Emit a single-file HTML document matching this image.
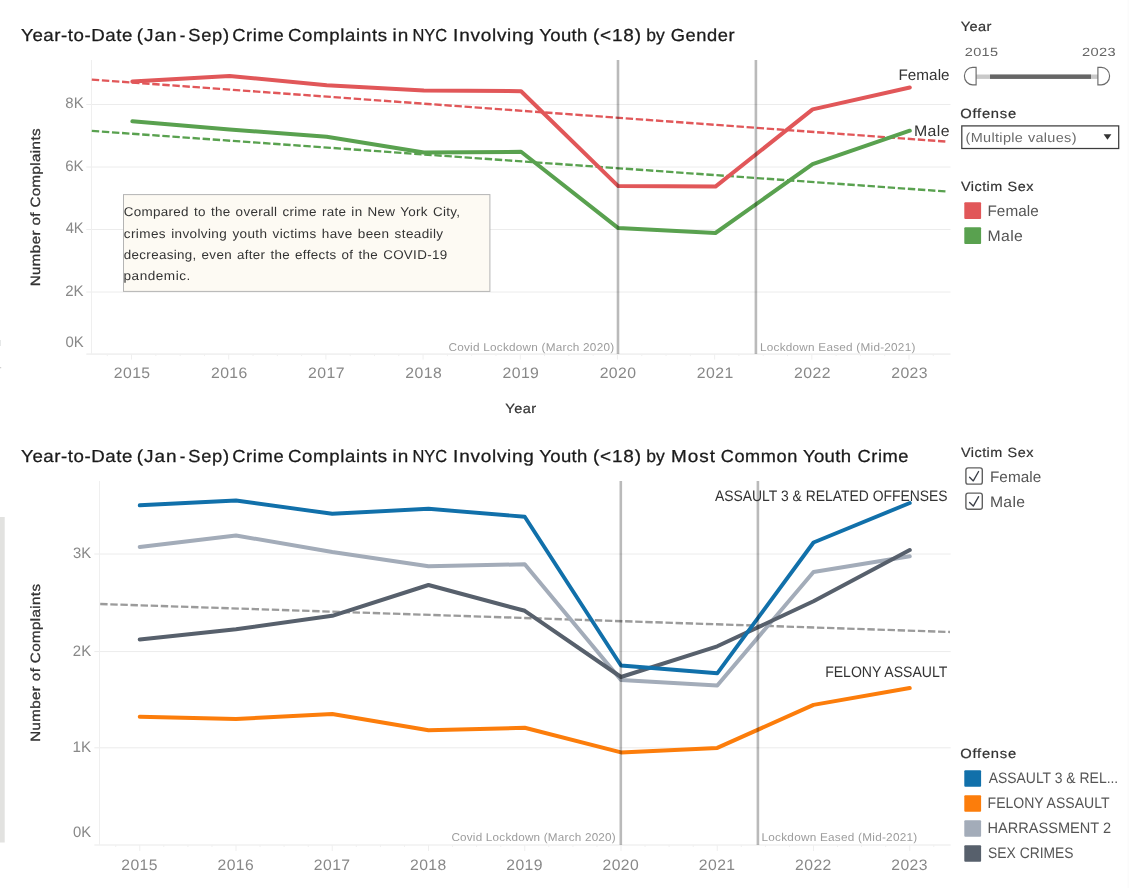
<!DOCTYPE html>
<html lang="en">
<head>
<meta charset="utf-8">
<title>Crime Complaints in NYC Involving Youth</title>
<style>
html, body { margin: 0; padding: 0; background: #ffffff; }
body { width: 1129px; height: 888px; overflow: hidden; }
svg { display: block; font-family: "Liberation Sans", sans-serif; }
svg text { white-space: pre; text-rendering: geometricPrecision; }
</style>
</head>
<body>
<svg width="1129" height="888" viewBox="0 0 1129 888">
<rect x="0" y="0" width="1129" height="888" fill="#ffffff"/>
<rect x="0" y="517" width="4.7" height="325.5" fill="#e2e2e0"/>
<rect x="1127.5" y="0" width="1.5" height="888" fill="#fbfbfb"/>
<rect x="0" y="340" width="0.9" height="6" fill="#e4e6e6"/>
<rect x="0" y="367" width="1.2" height="1.3" fill="#cfcfcf"/>
<line x1="86.30" y1="104.50" x2="950.50" y2="104.50" stroke="#ececec" stroke-width="1"/>
<line x1="86.30" y1="167.00" x2="950.50" y2="167.00" stroke="#ececec" stroke-width="1"/>
<line x1="86.30" y1="229.50" x2="950.50" y2="229.50" stroke="#ececec" stroke-width="1"/>
<line x1="86.30" y1="292.00" x2="950.50" y2="292.00" stroke="#ececec" stroke-width="1"/>
<line x1="91.50" y1="60.00" x2="91.50" y2="354.10" stroke="#efefef" stroke-width="1"/>
<line x1="86.30" y1="354.10" x2="950.50" y2="354.10" stroke="#f1f1f1" stroke-width="1.7"/>
<line x1="131.55" y1="354.10" x2="131.55" y2="359.60" stroke="#efefef" stroke-width="1"/>
<line x1="228.73" y1="354.10" x2="228.73" y2="359.60" stroke="#efefef" stroke-width="1"/>
<line x1="325.91" y1="354.10" x2="325.91" y2="359.60" stroke="#efefef" stroke-width="1"/>
<line x1="423.09" y1="354.10" x2="423.09" y2="359.60" stroke="#efefef" stroke-width="1"/>
<line x1="520.27" y1="354.10" x2="520.27" y2="359.60" stroke="#efefef" stroke-width="1"/>
<line x1="617.45" y1="354.10" x2="617.45" y2="359.60" stroke="#efefef" stroke-width="1"/>
<line x1="714.63" y1="354.10" x2="714.63" y2="359.60" stroke="#efefef" stroke-width="1"/>
<line x1="811.81" y1="354.10" x2="811.81" y2="359.60" stroke="#efefef" stroke-width="1"/>
<line x1="908.99" y1="354.10" x2="908.99" y2="359.60" stroke="#efefef" stroke-width="1"/>
<line x1="107.26" y1="354.10" x2="107.26" y2="356.10" stroke="#f0f0f0" stroke-width="1"/>
<line x1="155.85" y1="354.10" x2="155.85" y2="356.10" stroke="#f0f0f0" stroke-width="1"/>
<line x1="180.14" y1="354.10" x2="180.14" y2="356.10" stroke="#f0f0f0" stroke-width="1"/>
<line x1="204.44" y1="354.10" x2="204.44" y2="356.10" stroke="#f0f0f0" stroke-width="1"/>
<line x1="253.03" y1="354.10" x2="253.03" y2="356.10" stroke="#f0f0f0" stroke-width="1"/>
<line x1="277.32" y1="354.10" x2="277.32" y2="356.10" stroke="#f0f0f0" stroke-width="1"/>
<line x1="301.62" y1="354.10" x2="301.62" y2="356.10" stroke="#f0f0f0" stroke-width="1"/>
<line x1="350.21" y1="354.10" x2="350.21" y2="356.10" stroke="#f0f0f0" stroke-width="1"/>
<line x1="374.50" y1="354.10" x2="374.50" y2="356.10" stroke="#f0f0f0" stroke-width="1"/>
<line x1="398.80" y1="354.10" x2="398.80" y2="356.10" stroke="#f0f0f0" stroke-width="1"/>
<line x1="447.39" y1="354.10" x2="447.39" y2="356.10" stroke="#f0f0f0" stroke-width="1"/>
<line x1="471.68" y1="354.10" x2="471.68" y2="356.10" stroke="#f0f0f0" stroke-width="1"/>
<line x1="495.98" y1="354.10" x2="495.98" y2="356.10" stroke="#f0f0f0" stroke-width="1"/>
<line x1="544.57" y1="354.10" x2="544.57" y2="356.10" stroke="#f0f0f0" stroke-width="1"/>
<line x1="568.86" y1="354.10" x2="568.86" y2="356.10" stroke="#f0f0f0" stroke-width="1"/>
<line x1="593.15" y1="354.10" x2="593.15" y2="356.10" stroke="#f0f0f0" stroke-width="1"/>
<line x1="641.75" y1="354.10" x2="641.75" y2="356.10" stroke="#f0f0f0" stroke-width="1"/>
<line x1="666.04" y1="354.10" x2="666.04" y2="356.10" stroke="#f0f0f0" stroke-width="1"/>
<line x1="690.34" y1="354.10" x2="690.34" y2="356.10" stroke="#f0f0f0" stroke-width="1"/>
<line x1="738.92" y1="354.10" x2="738.92" y2="356.10" stroke="#f0f0f0" stroke-width="1"/>
<line x1="763.22" y1="354.10" x2="763.22" y2="356.10" stroke="#f0f0f0" stroke-width="1"/>
<line x1="787.52" y1="354.10" x2="787.52" y2="356.10" stroke="#f0f0f0" stroke-width="1"/>
<line x1="836.11" y1="354.10" x2="836.11" y2="356.10" stroke="#f0f0f0" stroke-width="1"/>
<line x1="860.40" y1="354.10" x2="860.40" y2="356.10" stroke="#f0f0f0" stroke-width="1"/>
<line x1="884.70" y1="354.10" x2="884.70" y2="356.10" stroke="#f0f0f0" stroke-width="1"/>
<line x1="933.29" y1="354.10" x2="933.29" y2="356.10" stroke="#f0f0f0" stroke-width="1"/>
<line x1="91.80" y1="79.60" x2="947.80" y2="141.70" stroke="#e15759" stroke-width="2.35" stroke-dasharray="7.4 2.7"/>
<line x1="91.80" y1="130.90" x2="947.80" y2="191.60" stroke="#59a14f" stroke-width="2.35" stroke-dasharray="7.4 2.7"/>
<polyline points="132.35,121.30 229.53,129.50 326.71,136.80 423.89,152.50 521.07,151.80 618.25,228.10 715.43,233.00 812.61,164.20 909.79,130.70" fill="none" stroke="#59a14f" stroke-width="4.0" stroke-linejoin="round" stroke-linecap="round"/>
<polyline points="132.35,81.60 229.53,75.90 326.71,85.20 423.89,90.40 521.07,91.20 618.25,186.10 715.43,186.60 812.61,109.40 909.79,87.50" fill="none" stroke="#e15759" stroke-width="4.0" stroke-linejoin="round" stroke-linecap="round"/>
<line x1="618.00" y1="60.00" x2="618.00" y2="354.10" stroke="#000000" stroke-opacity="0.27" stroke-width="2.6"/>
<line x1="755.90" y1="60.00" x2="755.90" y2="354.10" stroke="#000000" stroke-opacity="0.27" stroke-width="2.6"/>
<rect x="123.5" y="194.6" width="366.4" height="96.8" fill="#fdfaf3" stroke="#b4b4b4" stroke-width="1"/>
<text x="123.72" y="216.30" font-size="12.7" fill="#333333" letter-spacing="0.287" textLength="336.58" lengthAdjust="spacingAndGlyphs" word-spacing="1.0">Compared to the overall crime rate in New York City,</text>
<text x="123.83" y="237.60" font-size="12.7" fill="#333333" letter-spacing="0.358" textLength="319.68" lengthAdjust="spacingAndGlyphs" word-spacing="1.0">crimes involving youth victims have been steadily</text>
<text x="123.84" y="259.00" font-size="12.7" fill="#333333" letter-spacing="0.301" textLength="323.61" lengthAdjust="spacingAndGlyphs" word-spacing="1.0">decreasing, even after the effects of the COVID-19</text>
<text x="123.52" y="280.20" font-size="12.7" fill="#333333" letter-spacing="0.466" textLength="67.22" lengthAdjust="spacingAndGlyphs" word-spacing="1.0">pandemic.</text>
<text x="65.35" y="108.30" font-size="15.2" fill="#888888" textLength="18.32" lengthAdjust="spacingAndGlyphs">8K</text>
<text x="65.23" y="170.80" font-size="15.2" fill="#888888" textLength="18.43" lengthAdjust="spacingAndGlyphs">6K</text>
<text x="65.66" y="233.30" font-size="15.2" fill="#888888" textLength="18.00" lengthAdjust="spacingAndGlyphs">4K</text>
<text x="65.24" y="295.80" font-size="15.2" fill="#888888" textLength="18.43" lengthAdjust="spacingAndGlyphs">2K</text>
<text x="65.42" y="347.00" font-size="15.2" fill="#888888" textLength="18.25" lengthAdjust="spacingAndGlyphs">0K</text>
<text x="113.76" y="377.90" font-size="15.2" fill="#888888" letter-spacing="0.399" textLength="36.77" lengthAdjust="spacingAndGlyphs">2015</text>
<text x="210.94" y="377.90" font-size="15.2" fill="#888888" letter-spacing="0.404" textLength="36.81" lengthAdjust="spacingAndGlyphs">2016</text>
<text x="308.11" y="377.90" font-size="15.2" fill="#888888" letter-spacing="0.419" textLength="36.93" lengthAdjust="spacingAndGlyphs">2017</text>
<text x="405.30" y="377.90" font-size="15.2" fill="#888888" letter-spacing="0.403" textLength="36.80" lengthAdjust="spacingAndGlyphs">2018</text>
<text x="502.48" y="377.90" font-size="15.2" fill="#888888" letter-spacing="0.412" textLength="36.87" lengthAdjust="spacingAndGlyphs">2019</text>
<text x="599.66" y="377.90" font-size="15.2" fill="#888888" letter-spacing="0.393" textLength="36.72" lengthAdjust="spacingAndGlyphs">2020</text>
<text x="696.83" y="377.90" font-size="15.2" fill="#888888" letter-spacing="0.415" textLength="36.90" lengthAdjust="spacingAndGlyphs">2021</text>
<text x="794.01" y="377.90" font-size="15.2" fill="#888888" letter-spacing="0.419" textLength="36.93" lengthAdjust="spacingAndGlyphs">2022</text>
<text x="891.20" y="377.90" font-size="15.2" fill="#888888" letter-spacing="0.404" textLength="36.81" lengthAdjust="spacingAndGlyphs">2023</text>
<text x="505.39" y="412.90" font-size="13.4" fill="#333333" stroke="#333333" stroke-width="0.2" letter-spacing="0.370" textLength="31.02" lengthAdjust="spacingAndGlyphs">Year</text>
<g transform="translate(40.2 207) rotate(-90)">
<text x="-79.24" y="0.00" font-size="13.4" fill="#333333" stroke="#333333" stroke-width="0.3" letter-spacing="0.340" textLength="158.17" lengthAdjust="spacingAndGlyphs">Number of Complaints</text>
</g>
<text x="448.50" y="350.50" font-size="11.3" fill="#9c9c9c" letter-spacing="0.228" textLength="165.86" lengthAdjust="spacingAndGlyphs">Covid Lockdown (March 2020)</text>
<text x="760.04" y="350.50" font-size="11.3" fill="#9c9c9c" letter-spacing="0.228" textLength="155.53" lengthAdjust="spacingAndGlyphs">Lockdown Eased (Mid-2021)</text>
<text x="898.45" y="79.70" font-size="15.2" fill="#333333" letter-spacing="0.044" textLength="51.17" lengthAdjust="spacingAndGlyphs">Female</text>
<text x="913.90" y="136.20" font-size="15.2" fill="#333333" letter-spacing="0.428" textLength="36.15" lengthAdjust="spacingAndGlyphs">Male</text>
<text y="41.40" font-size="17.4" fill="#1a1a1a" stroke="#1a1a1a" stroke-width="0.27"><tspan x="21.10" letter-spacing="0.496" textLength="111.75" lengthAdjust="spacingAndGlyphs">Year-to-Date</tspan> <tspan x="136.71" letter-spacing="0.871" textLength="40.69" lengthAdjust="spacingAndGlyphs">(Jan</tspan> <tspan x="179.65" textLength="5.59" lengthAdjust="spacingAndGlyphs">-</tspan> <tspan x="188.37" letter-spacing="0.603" textLength="41.31" lengthAdjust="spacingAndGlyphs">Sep)</tspan> <tspan x="232.17" letter-spacing="0.587" textLength="52.07" lengthAdjust="spacingAndGlyphs">Crime</tspan> <tspan x="287.95" letter-spacing="0.622" textLength="99.78" lengthAdjust="spacingAndGlyphs">Complaints</tspan> <tspan x="392.64" letter-spacing="0.898" textLength="16.67" lengthAdjust="spacingAndGlyphs">in</tspan> <tspan x="412.45" textLength="34.67" lengthAdjust="spacingAndGlyphs">NYC</tspan> <tspan x="453.14" letter-spacing="0.681" textLength="81.53" lengthAdjust="spacingAndGlyphs">Involving</tspan> <tspan x="539.31" letter-spacing="0.309" textLength="48.37" lengthAdjust="spacingAndGlyphs">Youth</tspan> <tspan x="592.93" letter-spacing="0.777" textLength="48.89" lengthAdjust="spacingAndGlyphs">(&lt;18)</tspan> <tspan x="646.17" letter-spacing="0.138" textLength="18.80" lengthAdjust="spacingAndGlyphs">by</tspan> <tspan x="670.78" letter-spacing="0.554" textLength="64.51" lengthAdjust="spacingAndGlyphs">Gender</tspan></text>
<line x1="94.30" y1="554.00" x2="950.70" y2="554.00" stroke="#ececec" stroke-width="1"/>
<line x1="94.30" y1="651.60" x2="950.70" y2="651.60" stroke="#ececec" stroke-width="1"/>
<line x1="94.30" y1="747.80" x2="950.70" y2="747.80" stroke="#ececec" stroke-width="1"/>
<line x1="99.50" y1="481.00" x2="99.50" y2="845.00" stroke="#efefef" stroke-width="1"/>
<line x1="94.30" y1="845.00" x2="950.70" y2="845.00" stroke="#f1f1f1" stroke-width="1.7"/>
<line x1="139.75" y1="845.00" x2="139.75" y2="851.00" stroke="#efefef" stroke-width="1"/>
<line x1="236.00" y1="845.00" x2="236.00" y2="851.00" stroke="#efefef" stroke-width="1"/>
<line x1="332.25" y1="845.00" x2="332.25" y2="851.00" stroke="#efefef" stroke-width="1"/>
<line x1="428.50" y1="845.00" x2="428.50" y2="851.00" stroke="#efefef" stroke-width="1"/>
<line x1="524.75" y1="845.00" x2="524.75" y2="851.00" stroke="#efefef" stroke-width="1"/>
<line x1="621.00" y1="845.00" x2="621.00" y2="851.00" stroke="#efefef" stroke-width="1"/>
<line x1="717.25" y1="845.00" x2="717.25" y2="851.00" stroke="#efefef" stroke-width="1"/>
<line x1="813.50" y1="845.00" x2="813.50" y2="851.00" stroke="#efefef" stroke-width="1"/>
<line x1="909.75" y1="845.00" x2="909.75" y2="851.00" stroke="#efefef" stroke-width="1"/>
<line x1="115.69" y1="845.00" x2="115.69" y2="847.00" stroke="#f0f0f0" stroke-width="1"/>
<line x1="163.81" y1="845.00" x2="163.81" y2="847.00" stroke="#f0f0f0" stroke-width="1"/>
<line x1="187.88" y1="845.00" x2="187.88" y2="847.00" stroke="#f0f0f0" stroke-width="1"/>
<line x1="211.94" y1="845.00" x2="211.94" y2="847.00" stroke="#f0f0f0" stroke-width="1"/>
<line x1="260.06" y1="845.00" x2="260.06" y2="847.00" stroke="#f0f0f0" stroke-width="1"/>
<line x1="284.12" y1="845.00" x2="284.12" y2="847.00" stroke="#f0f0f0" stroke-width="1"/>
<line x1="308.19" y1="845.00" x2="308.19" y2="847.00" stroke="#f0f0f0" stroke-width="1"/>
<line x1="356.31" y1="845.00" x2="356.31" y2="847.00" stroke="#f0f0f0" stroke-width="1"/>
<line x1="380.38" y1="845.00" x2="380.38" y2="847.00" stroke="#f0f0f0" stroke-width="1"/>
<line x1="404.44" y1="845.00" x2="404.44" y2="847.00" stroke="#f0f0f0" stroke-width="1"/>
<line x1="452.56" y1="845.00" x2="452.56" y2="847.00" stroke="#f0f0f0" stroke-width="1"/>
<line x1="476.62" y1="845.00" x2="476.62" y2="847.00" stroke="#f0f0f0" stroke-width="1"/>
<line x1="500.69" y1="845.00" x2="500.69" y2="847.00" stroke="#f0f0f0" stroke-width="1"/>
<line x1="548.81" y1="845.00" x2="548.81" y2="847.00" stroke="#f0f0f0" stroke-width="1"/>
<line x1="572.88" y1="845.00" x2="572.88" y2="847.00" stroke="#f0f0f0" stroke-width="1"/>
<line x1="596.94" y1="845.00" x2="596.94" y2="847.00" stroke="#f0f0f0" stroke-width="1"/>
<line x1="645.06" y1="845.00" x2="645.06" y2="847.00" stroke="#f0f0f0" stroke-width="1"/>
<line x1="669.12" y1="845.00" x2="669.12" y2="847.00" stroke="#f0f0f0" stroke-width="1"/>
<line x1="693.19" y1="845.00" x2="693.19" y2="847.00" stroke="#f0f0f0" stroke-width="1"/>
<line x1="741.31" y1="845.00" x2="741.31" y2="847.00" stroke="#f0f0f0" stroke-width="1"/>
<line x1="765.38" y1="845.00" x2="765.38" y2="847.00" stroke="#f0f0f0" stroke-width="1"/>
<line x1="789.44" y1="845.00" x2="789.44" y2="847.00" stroke="#f0f0f0" stroke-width="1"/>
<line x1="837.56" y1="845.00" x2="837.56" y2="847.00" stroke="#f0f0f0" stroke-width="1"/>
<line x1="861.62" y1="845.00" x2="861.62" y2="847.00" stroke="#f0f0f0" stroke-width="1"/>
<line x1="885.69" y1="845.00" x2="885.69" y2="847.00" stroke="#f0f0f0" stroke-width="1"/>
<line x1="933.81" y1="845.00" x2="933.81" y2="847.00" stroke="#f0f0f0" stroke-width="1"/>
<line x1="100.20" y1="604.00" x2="950.00" y2="632.00" stroke="#9b9b9b" stroke-width="2.35" stroke-dasharray="7.4 2.7"/>
<polyline points="139.75,716.80 236.00,719.00 332.25,714.00 428.50,730.30 524.75,727.80 621.00,752.40 717.25,747.90 813.50,704.90 909.75,688.00" fill="none" stroke="#fc7d0b" stroke-width="4.0" stroke-linejoin="round" stroke-linecap="round"/>
<polyline points="139.75,547.00 236.00,535.50 332.25,552.00 428.50,566.30 524.75,564.30 621.00,680.00 717.25,685.50 813.50,572.00 909.75,556.30" fill="none" stroke="#a3acb9" stroke-width="4.0" stroke-linejoin="round" stroke-linecap="round"/>
<polyline points="139.75,639.50 236.00,629.30 332.25,615.80 428.50,585.00 524.75,610.80 621.00,677.00 717.25,646.30 813.50,601.30 909.75,550.00" fill="none" stroke="#57606c" stroke-width="4.0" stroke-linejoin="round" stroke-linecap="round"/>
<polyline points="139.75,505.30 236.00,500.50 332.25,513.80 428.50,508.80 524.75,516.80 621.00,665.50 717.25,673.30 813.50,542.50 909.75,503.00" fill="none" stroke="#1170aa" stroke-width="3.9" stroke-linejoin="round" stroke-linecap="round"/>
<line x1="620.80" y1="481.00" x2="620.80" y2="845.00" stroke="#000000" stroke-opacity="0.27" stroke-width="2.6"/>
<line x1="757.90" y1="481.00" x2="757.90" y2="845.00" stroke="#000000" stroke-opacity="0.27" stroke-width="2.6"/>
<text x="73.04" y="558.10" font-size="15.2" fill="#888888" textLength="18.13" lengthAdjust="spacingAndGlyphs">3K</text>
<text x="72.85" y="655.70" font-size="15.2" fill="#888888" textLength="18.32" lengthAdjust="spacingAndGlyphs">2K</text>
<text x="72.44" y="751.90" font-size="15.2" fill="#888888" letter-spacing="0.068" textLength="18.80" lengthAdjust="spacingAndGlyphs">1K</text>
<text x="73.02" y="837.30" font-size="15.2" fill="#888888" textLength="18.15" lengthAdjust="spacingAndGlyphs">0K</text>
<text x="121.36" y="870.10" font-size="15.2" fill="#888888" letter-spacing="0.353" textLength="36.41" lengthAdjust="spacingAndGlyphs">2015</text>
<text x="217.61" y="870.10" font-size="15.2" fill="#888888" letter-spacing="0.357" textLength="36.45" lengthAdjust="spacingAndGlyphs">2016</text>
<text x="313.86" y="870.10" font-size="15.2" fill="#888888" letter-spacing="0.372" textLength="36.57" lengthAdjust="spacingAndGlyphs">2017</text>
<text x="410.11" y="870.10" font-size="15.2" fill="#888888" letter-spacing="0.356" textLength="36.44" lengthAdjust="spacingAndGlyphs">2018</text>
<text x="506.36" y="870.10" font-size="15.2" fill="#888888" letter-spacing="0.366" textLength="36.51" lengthAdjust="spacingAndGlyphs">2019</text>
<text x="602.61" y="870.10" font-size="15.2" fill="#888888" letter-spacing="0.346" textLength="36.36" lengthAdjust="spacingAndGlyphs">2020</text>
<text x="698.86" y="870.10" font-size="15.2" fill="#888888" letter-spacing="0.369" textLength="36.54" lengthAdjust="spacingAndGlyphs">2021</text>
<text x="795.11" y="870.10" font-size="15.2" fill="#888888" letter-spacing="0.372" textLength="36.57" lengthAdjust="spacingAndGlyphs">2022</text>
<text x="891.36" y="870.10" font-size="15.2" fill="#888888" letter-spacing="0.357" textLength="36.45" lengthAdjust="spacingAndGlyphs">2023</text>
<g transform="translate(40.3 662.6) rotate(-90)">
<text x="-79.24" y="0.00" font-size="13.4" fill="#333333" stroke="#333333" stroke-width="0.3" letter-spacing="0.340" textLength="158.17" lengthAdjust="spacingAndGlyphs">Number of Complaints</text>
</g>
<text x="451.41" y="841.00" font-size="11.3" fill="#9c9c9c" letter-spacing="0.205" textLength="164.53" lengthAdjust="spacingAndGlyphs">Covid Lockdown (March 2020)</text>
<text x="761.53" y="841.00" font-size="11.3" fill="#9c9c9c" letter-spacing="0.236" textLength="155.94" lengthAdjust="spacingAndGlyphs">Lockdown Eased (Mid-2021)</text>
<text x="714.97" y="501.20" font-size="15.2" fill="#333333" textLength="232.66" lengthAdjust="spacingAndGlyphs">ASSAULT 3 &amp; RELATED OFFENSES</text>
<text x="825.17" y="677.00" font-size="15.2" fill="#333333" textLength="122.15" lengthAdjust="spacingAndGlyphs">FELONY ASSAULT</text>
<text y="461.90" font-size="17.4" fill="#1a1a1a" stroke="#1a1a1a" stroke-width="0.27"><tspan x="21.10" letter-spacing="0.496" textLength="111.75" lengthAdjust="spacingAndGlyphs">Year-to-Date</tspan> <tspan x="136.71" letter-spacing="0.871" textLength="40.69" lengthAdjust="spacingAndGlyphs">(Jan</tspan> <tspan x="179.65" textLength="5.59" lengthAdjust="spacingAndGlyphs">-</tspan> <tspan x="188.37" letter-spacing="0.603" textLength="41.31" lengthAdjust="spacingAndGlyphs">Sep)</tspan> <tspan x="232.17" letter-spacing="0.587" textLength="52.07" lengthAdjust="spacingAndGlyphs">Crime</tspan> <tspan x="287.95" letter-spacing="0.622" textLength="99.78" lengthAdjust="spacingAndGlyphs">Complaints</tspan> <tspan x="392.64" letter-spacing="0.898" textLength="16.67" lengthAdjust="spacingAndGlyphs">in</tspan> <tspan x="412.45" textLength="34.67" lengthAdjust="spacingAndGlyphs">NYC</tspan> <tspan x="453.14" letter-spacing="0.681" textLength="81.53" lengthAdjust="spacingAndGlyphs">Involving</tspan> <tspan x="539.31" letter-spacing="0.309" textLength="48.37" lengthAdjust="spacingAndGlyphs">Youth</tspan> <tspan x="592.93" letter-spacing="0.777" textLength="48.89" lengthAdjust="spacingAndGlyphs">(&lt;18)</tspan> <tspan x="646.17" letter-spacing="0.138" textLength="18.80" lengthAdjust="spacingAndGlyphs">by</tspan> <tspan x="670.95" letter-spacing="0.973" textLength="45.25" lengthAdjust="spacingAndGlyphs">Most</tspan> <tspan x="720.78" letter-spacing="0.559" textLength="77.08" lengthAdjust="spacingAndGlyphs">Common</tspan> <tspan x="802.91" letter-spacing="0.332" textLength="48.60" lengthAdjust="spacingAndGlyphs">Youth</tspan> <tspan x="857.57" letter-spacing="0.531" textLength="51.50" lengthAdjust="spacingAndGlyphs">Crime</tspan></text>
<text x="960.69" y="31.00" font-size="13.4" fill="#333333" stroke="#333333" stroke-width="0.2" letter-spacing="0.385" textLength="31.14" lengthAdjust="spacingAndGlyphs">Year</text>
<text x="964.77" y="55.90" font-size="11.9" fill="#666666" letter-spacing="0.268" textLength="33.56" lengthAdjust="spacingAndGlyphs">2015</text>
<text x="1081.96" y="55.90" font-size="11.9" fill="#666666" letter-spacing="0.282" textLength="34.03" lengthAdjust="spacingAndGlyphs">2023</text>
<rect x="975.8" y="74.5" width="122.4" height="4.4" fill="#c9c9c9"/>
<rect x="990" y="74.5" width="101" height="4.4" fill="#666666"/>
<path d="M976.1 67.4 h-3.4 a8.3 8.7 0 0 0 0 17.4 h3.4 z" fill="#ffffff" stroke="#6a6a6a" stroke-width="1.15"/>
<path d="M1097.9 67.4 h3.4 a8.3 8.7 0 0 1 0 17.4 h-3.4 z" fill="#ffffff" stroke="#6a6a6a" stroke-width="1.15"/>
<text x="960.30" y="118.00" font-size="13.4" fill="#333333" stroke="#333333" stroke-width="0.2" letter-spacing="0.669" textLength="56.58" lengthAdjust="spacingAndGlyphs">Offense</text>
<rect x="961.8" y="125.9" width="156.9" height="22.6" fill="#ffffff" stroke="#3d3d3d" stroke-width="1.25"/>
<text x="965.60" y="141.90" font-size="13.1" fill="#6b6b6b" letter-spacing="0.298" textLength="111.22" lengthAdjust="spacingAndGlyphs" word-spacing="0.3">(Multiple values)</text>
<path d="M1103.6 134.3 h7.8 l-3.9 5.4 z" fill="#333333"/>
<text x="960.94" y="191.00" font-size="13.4" fill="#333333" stroke="#333333" stroke-width="0.2" letter-spacing="0.458" textLength="72.91" lengthAdjust="spacingAndGlyphs" word-spacing="0.3">Victim Sex</text>
<rect x="964.3" y="202.3" width="16.8" height="16.6" rx="1" fill="#e15759"/>
<text x="987.44" y="216.00" font-size="15.2" fill="#555555" letter-spacing="0.073" textLength="51.51" lengthAdjust="spacingAndGlyphs">Female</text>
<rect x="964.3" y="227.3" width="16.8" height="16.6" rx="1" fill="#59a14f"/>
<text x="987.40" y="240.90" font-size="15.2" fill="#555555" letter-spacing="0.397" textLength="35.91" lengthAdjust="spacingAndGlyphs">Male</text>
<text x="960.94" y="456.80" font-size="13.4" fill="#333333" stroke="#333333" stroke-width="0.2" letter-spacing="0.458" textLength="72.91" lengthAdjust="spacingAndGlyphs" word-spacing="0.3">Victim Sex</text>
<rect x="965.9" y="467.9" width="16.4" height="16.2" rx="2.2" fill="#ffffff" stroke="#606060" stroke-width="1.4"/>
<path d="M969.6 477.2 L973.3 480.9 L978.6 471.5" fill="none" stroke="#3a3e47" stroke-width="1.35" stroke-linecap="round" stroke-linejoin="round"/>
<text x="989.94" y="481.70" font-size="15.2" fill="#555555" letter-spacing="0.073" textLength="51.51" lengthAdjust="spacingAndGlyphs">Female</text>
<rect x="965.9" y="493.1" width="16.4" height="16.2" rx="2.2" fill="#ffffff" stroke="#606060" stroke-width="1.4"/>
<path d="M969.6 502.4 L973.3 506.1 L978.6 496.7" fill="none" stroke="#3a3e47" stroke-width="1.35" stroke-linecap="round" stroke-linejoin="round"/>
<text x="989.91" y="506.80" font-size="15.2" fill="#555555" letter-spacing="0.350" textLength="35.55" lengthAdjust="spacingAndGlyphs">Male</text>
<text x="960.30" y="757.70" font-size="13.4" fill="#333333" stroke="#333333" stroke-width="0.2" letter-spacing="0.669" textLength="56.58" lengthAdjust="spacingAndGlyphs">Offense</text>
<rect x="964.3" y="770.2" width="16.8" height="16.5" rx="1" fill="#1170aa"/>
<text x="988.67" y="782.80" font-size="15.2" fill="#555555" textLength="129.59" lengthAdjust="spacingAndGlyphs">ASSAULT 3 &amp; REL...</text>
<rect x="964.3" y="795.3" width="16.8" height="16.5" rx="1" fill="#fc7d0b"/>
<text x="987.57" y="808.00" font-size="15.2" fill="#555555" textLength="121.95" lengthAdjust="spacingAndGlyphs">FELONY ASSAULT</text>
<rect x="964.3" y="820.3" width="16.8" height="16.5" rx="1" fill="#a3acb9"/>
<text x="987.51" y="832.80" font-size="15.2" fill="#555555" textLength="123.62" lengthAdjust="spacingAndGlyphs">HARRASSMENT 2</text>
<rect x="964.3" y="845.3" width="16.8" height="16.5" rx="1" fill="#57606c"/>
<text x="988.07" y="857.90" font-size="15.2" fill="#555555" textLength="85.47" lengthAdjust="spacingAndGlyphs">SEX CRIMES</text>
</svg>
</body>
</html>
